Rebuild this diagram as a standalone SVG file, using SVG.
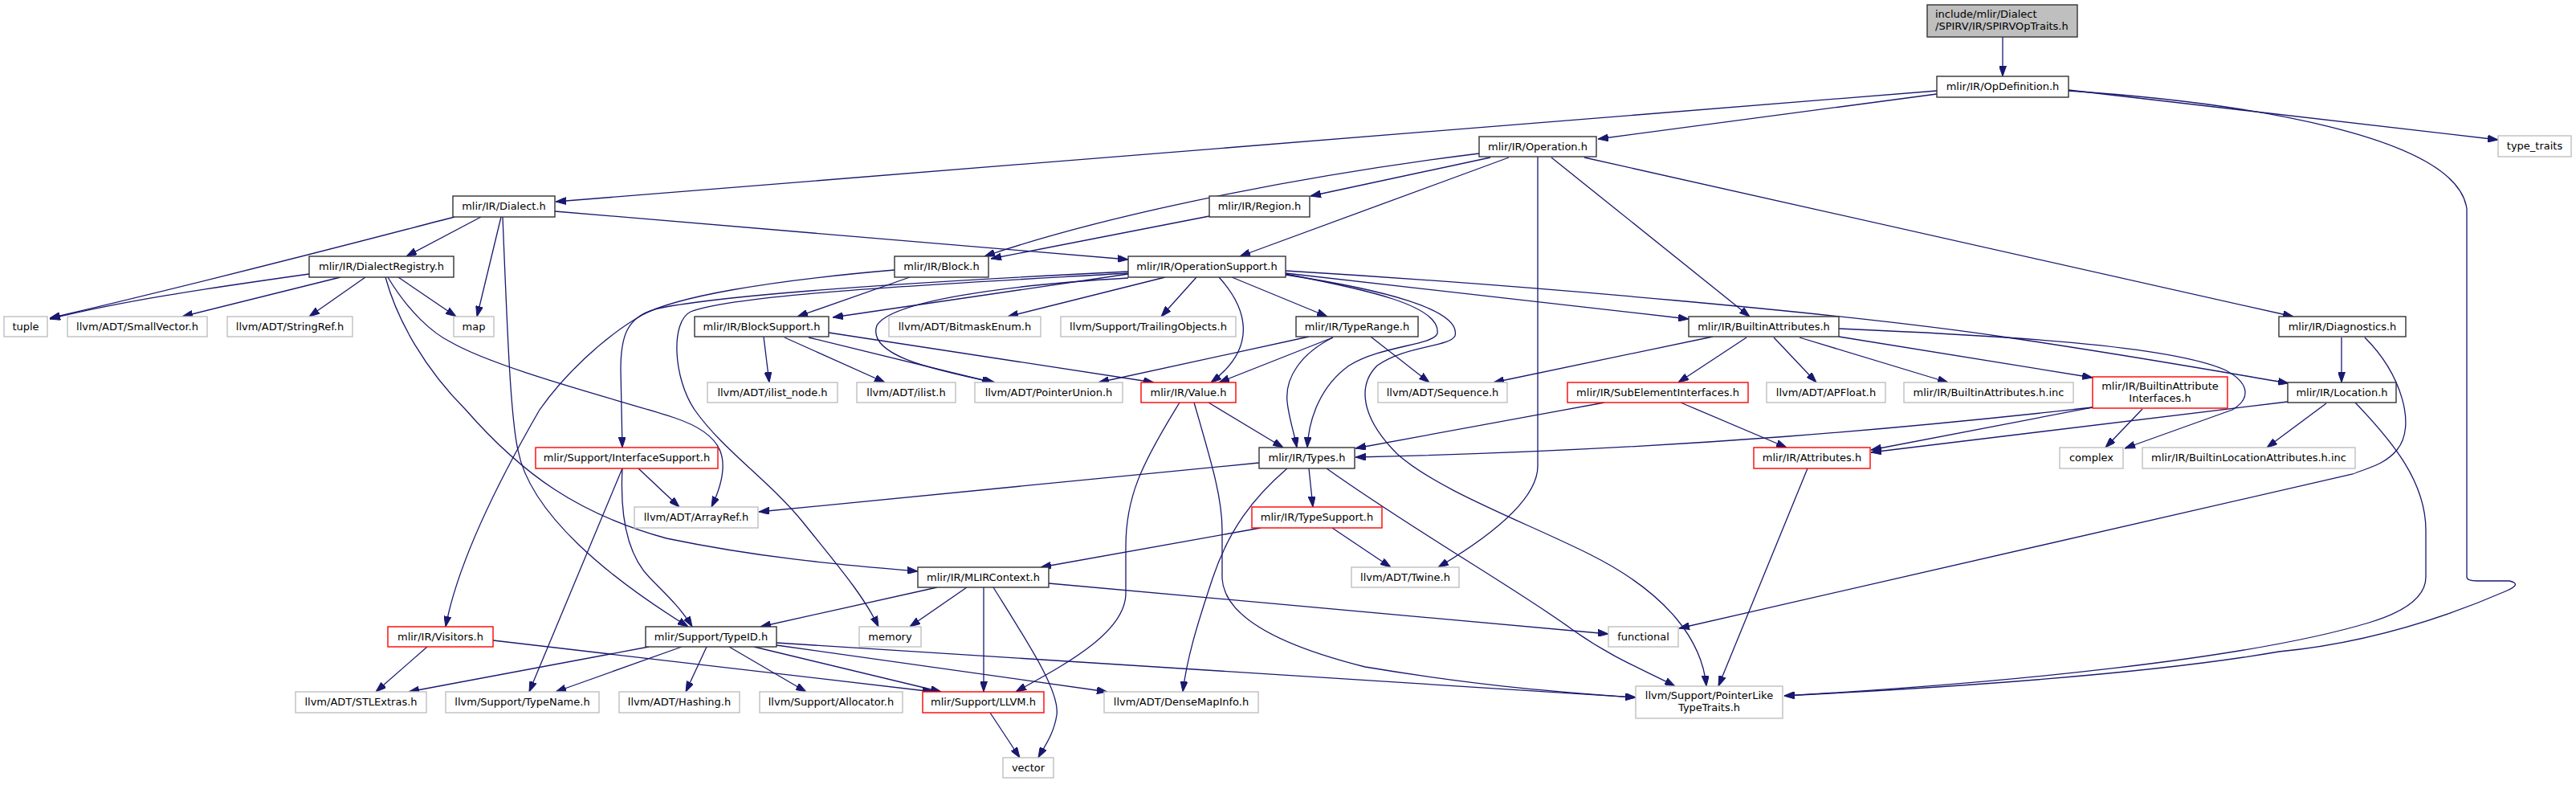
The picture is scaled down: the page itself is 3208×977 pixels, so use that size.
<svg xmlns="http://www.w3.org/2000/svg" width="3208" height="977" viewBox="0 0 3208 977">
<style>
.b{fill:#fff;stroke:#333;stroke-width:1.4}
.g{fill:#fff;stroke:#bfbfbf;stroke-width:1.4}
.r{fill:#fff;stroke:#ff0000;stroke-width:1.4}
.root{fill:#bfbfbf;stroke:#333;stroke-width:1.4}
text{font-family:"DejaVu Sans","Liberation Sans",sans-serif;font-size:13px;fill:#000;text-anchor:middle}
text.l{text-anchor:start}
#edges path{fill:none;stroke:#191970;stroke-width:1.3;marker-end:url(#a)}
</style>
<defs>
<marker id="a" markerWidth="13" markerHeight="9" refX="13" refY="4.5" orient="auto" markerUnits="userSpaceOnUse">
<path d="M0,0 L13,4.5 L0,9 z" fill="#191970" stroke="#191970" stroke-width="1"/>
</marker>
</defs>
<rect width="3208" height="977" fill="#fff"/>
<g id="edges">
<path d="M2494,46 L2494,95"/>
<path d="M2412,117 L1990,173"/>
<path d="M2412,113 L692,251"/>
<path d="M2576,112 L3111,174"/>
<path d="M2576,113 C2800,128 3060,170 3072,260 L3072,718 Q3072,723 3085,723 L3125,723 Q3142,727 3120,736 C3000,788 2900,805 2838,811 C2700,835 2500,852 2222,866"/>
<path d="M1842,191 C1650,215 1400,260 1226,319"/>
<path d="M1856,196 L1632,244"/>
<path d="M1879,196 L1544,319"/>
<path d="M1915,195 L1915,580 C1915,620 1860,665 1791,706"/>
<path d="M1932,196 L2179,394"/>
<path d="M1973,196 L2856,394"/>
<path d="M1506,269 L1234,322"/>
<path d="M566,270 C450,300 300,340 62,396"/>
<path d="M599,270 L506,319"/>
<path d="M624,270 L594,394"/>
<path d="M626,270 C632,420 636,520 645,560 C660,640 760,720 857,780"/>
<path d="M691,263 L1405,323"/>
<path d="M385,341 C250,360 150,375 62,397"/>
<path d="M424,345 L227,394"/>
<path d="M455,345 L385,394"/>
<path d="M496,345 L568,394"/>
<path d="M480,345 C495,400 530,460 580,510 C650,590 720,640 830,670 C950,695 1050,703 1143,711"/>
<path d="M483,345 C510,390 540,415 560,425 C620,460 780,500 840,520 C900,540 915,570 886,631"/>
<path d="M1133,345 L993,394"/>
<path d="M1114,336 C950,350 840,370 800,392 C750,420 700,470 672,510 C620,600 570,700 555,780"/>
<path d="M1405,341 L1037,395"/>
<path d="M1405,346 C1250,355 1110,375 1092,405 C1080,440 1150,458 1239,476"/>
<path d="M1451,345 L1255,394"/>
<path d="M1490,345 L1446,394"/>
<path d="M1518,345 C1550,380 1570,430 1508,476"/>
<path d="M1534,345 L1653,394"/>
<path d="M1405,338 C1200,348 900,365 815,385 C780,395 773,420 773,460 L775,557"/>
<path d="M1405,340 C1200,352 920,365 860,388 C835,400 838,470 865,510 C900,560 960,600 1000,650 C1040,700 1075,740 1094,780"/>
<path d="M1601,340 L2103,397"/>
<path d="M1601,337 C1900,355 2300,390 2500,420 C2650,442 2750,460 2850,477"/>
<path d="M1601,341 C1700,360 1795,380 1790,415 C1785,430 1720,430 1680,455 C1645,480 1630,520 1628,557"/>
<path d="M1601,342 C1720,360 1820,385 1812,418 C1805,432 1750,430 1715,455 C1690,480 1695,520 1740,565 C1790,610 1900,650 1980,690 C2080,740 2120,800 2125,854"/>
<path d="M1630,419 L1368,476"/>
<path d="M1660,420 L1518,476"/>
<path d="M1660,420 C1620,440 1600,470 1603,500 C1605,520 1612,540 1615,557"/>
<path d="M1707,419 L1780,476"/>
<path d="M951,419 L958,476"/>
<path d="M977,420 L1102,476"/>
<path d="M1007,420 L1236,476"/>
<path d="M1032,414 L1437,476"/>
<path d="M1469,501 C1420,580 1402,620 1402,680 L1402,740 C1400,790 1320,830 1265,861"/>
<path d="M1487,501 C1510,580 1522,620 1522,660 L1522,720 C1525,770 1600,805 1700,830 C1850,855 1950,862 2037,868"/>
<path d="M1505,501 L1598,557"/>
<path d="M1568,576 L945,637"/>
<path d="M1603,583 C1560,620 1530,660 1510,720 C1490,780 1478,820 1473,861"/>
<path d="M1630,583 L1635,631"/>
<path d="M1652,583 C1760,660 1900,740 1960,785 C2010,820 2050,835 2086,854"/>
<path d="M1570,657 L1296,706"/>
<path d="M1659,657 L1732,706"/>
<path d="M1998,501 L1688,558"/>
<path d="M2093,501 L2225,557"/>
<path d="M2251,583 L2140,854"/>
<path d="M2133,419 L1860,476"/>
<path d="M2175,420 L2090,476"/>
<path d="M2209,420 L2262,476"/>
<path d="M2241,420 L2426,476"/>
<path d="M2290,419 L2606,470"/>
<path d="M2290,409 C2500,418 2700,430 2770,460 C2800,475 2805,495 2780,510 L2646,558"/>
<path d="M2606,507 C2400,530 2100,560 1688,569"/>
<path d="M2606,507 L2330,560"/>
<path d="M2668,509 L2622,557"/>
<path d="M2849,500 L2330,563"/>
<path d="M2897,502 L2823,557"/>
<path d="M2933,501 C2980,550 3021,600 3021,660 L3021,718 C3021,740 3000,760 2950,775 C2800,820 2500,850 2222,866"/>
<path d="M2916,420 L2916,476"/>
<path d="M2945,420 C2990,465 3010,530 2985,560 C2970,578 2950,582 2930,590 L2091,782"/>
<path d="M1167,731 L947,780"/>
<path d="M1204,731 L1133,780"/>
<path d="M1225,731 L1225,861"/>
<path d="M1237,731 C1280,800 1320,860 1316,890 C1312,915 1300,930 1293,943"/>
<path d="M1306,726 L2003,789"/>
<path d="M775,583 L659,861"/>
<path d="M775,583 C772,640 780,690 810,720 C835,745 850,760 862,780"/>
<path d="M795,583 L846,631"/>
<path d="M532,805 L468,861"/>
<path d="M614,797 L1162,861"/>
<path d="M808,805 L509,861"/>
<path d="M849,805 L692,861"/>
<path d="M880,805 L854,861"/>
<path d="M908,805 L1004,861"/>
<path d="M939,805 L1172,861"/>
<path d="M967,803 L1379,861"/>
<path d="M967,800 L2037,868"/>
<path d="M1233,887 L1270,943"/>
</g>
<g id="n_root"><rect class="root" x="2400" y="6" width="187" height="40"/><text class="l" x="2410" y="22">include/mlir/Dialect</text><text class="l" x="2410" y="37">/SPIRV/IR/SPIRVOpTraits.h</text></g>
<g id="n_opdefinition"><rect class="b" x="2412" y="95" width="164" height="26"/><text x="2494" y="112">mlir/IR/OpDefinition.h</text></g>
<g id="n_type_traits"><rect class="g" x="3111" y="169" width="91" height="26"/><text x="3156.5" y="186">type_traits</text></g>
<g id="n_operation"><rect class="b" x="1842" y="170" width="146" height="25"/><text x="1915" y="187">mlir/IR/Operation.h</text></g>
<g id="n_dialect"><rect class="b" x="564" y="244" width="127" height="26"/><text x="627.5" y="261">mlir/IR/Dialect.h</text></g>
<g id="n_region"><rect class="b" x="1506" y="244" width="125" height="26"/><text x="1568.5" y="261">mlir/IR/Region.h</text></g>
<g id="n_block"><rect class="b" x="1114" y="319" width="117" height="26"/><text x="1172.5" y="336">mlir/IR/Block.h</text></g>
<g id="n_operationsupport"><rect class="b" x="1405" y="319" width="196" height="26"/><text x="1503" y="336">mlir/IR/OperationSupport.h</text></g>
<g id="n_dialectregistry"><rect class="b" x="385" y="319" width="180" height="26"/><text x="475" y="336">mlir/IR/DialectRegistry.h</text></g>
<g id="n_diagnostics"><rect class="b" x="2838" y="394" width="158" height="25"/><text x="2917" y="411">mlir/IR/Diagnostics.h</text></g>
<g id="n_tuple"><rect class="g" x="5" y="394" width="54" height="25"/><text x="32" y="411">tuple</text></g>
<g id="n_smallvector"><rect class="g" x="84" y="394" width="174" height="25"/><text x="171" y="411">llvm/ADT/SmallVector.h</text></g>
<g id="n_stringref"><rect class="g" x="283" y="394" width="156" height="25"/><text x="361" y="411">llvm/ADT/StringRef.h</text></g>
<g id="n_map"><rect class="g" x="565" y="394" width="50" height="25"/><text x="590" y="411">map</text></g>
<g id="n_blocksupport"><rect class="b" x="865" y="394" width="167" height="25"/><text x="948.5" y="411">mlir/IR/BlockSupport.h</text></g>
<g id="n_bitmaskenum"><rect class="g" x="1107" y="394" width="189" height="25"/><text x="1201.5" y="411">llvm/ADT/BitmaskEnum.h</text></g>
<g id="n_trailingobjects"><rect class="g" x="1321" y="394" width="218" height="25"/><text x="1430" y="411">llvm/Support/TrailingObjects.h</text></g>
<g id="n_typerange"><rect class="b" x="1614" y="394" width="152" height="25"/><text x="1690" y="411">mlir/IR/TypeRange.h</text></g>
<g id="n_builtinattributes"><rect class="b" x="2103" y="394" width="187" height="25"/><text x="2196.5" y="411">mlir/IR/BuiltinAttributes.h</text></g>
<g id="n_location"><rect class="b" x="2849" y="476" width="135" height="25"/><text x="2916.5" y="493">mlir/IR/Location.h</text></g>
<g id="n_ilist_node"><rect class="g" x="881" y="476" width="162" height="25"/><text x="962" y="493">llvm/ADT/ilist_node.h</text></g>
<g id="n_ilist"><rect class="g" x="1067" y="476" width="123" height="25"/><text x="1128.5" y="493">llvm/ADT/ilist.h</text></g>
<g id="n_pointerunion"><rect class="g" x="1214" y="476" width="184" height="25"/><text x="1306" y="493">llvm/ADT/PointerUnion.h</text></g>
<g id="n_value"><rect class="r" x="1421" y="476" width="118" height="25"/><text x="1480" y="493">mlir/IR/Value.h</text></g>
<g id="n_sequence"><rect class="g" x="1716" y="476" width="161" height="25"/><text x="1796.5" y="493">llvm/ADT/Sequence.h</text></g>
<g id="n_subelementinterfaces"><rect class="r" x="1952" y="476" width="225" height="25"/><text x="2064.5" y="493">mlir/IR/SubElementInterfaces.h</text></g>
<g id="n_apfloat"><rect class="g" x="2200" y="476" width="148" height="25"/><text x="2274" y="493">llvm/ADT/APFloat.h</text></g>
<g id="n_builtinattributes_inc"><rect class="g" x="2371" y="476" width="211" height="25"/><text x="2476.5" y="493">mlir/IR/BuiltinAttributes.h.inc</text></g>
<g id="n_builtinattributeinterfaces"><rect class="r" x="2606" y="469" width="168" height="39"/><text x="2690" y="485">mlir/IR/BuiltinAttribute</text><text x="2690" y="500">Interfaces.h</text></g>
<g id="n_interfacesupport"><rect class="r" x="667" y="557" width="227" height="26"/><text x="780.5" y="574">mlir/Support/InterfaceSupport.h</text></g>
<g id="n_types"><rect class="b" x="1568" y="557" width="119" height="26"/><text x="1627.5" y="574">mlir/IR/Types.h</text></g>
<g id="n_attributes"><rect class="r" x="2184" y="557" width="145" height="26"/><text x="2256.5" y="574">mlir/IR/Attributes.h</text></g>
<g id="n_complex"><rect class="g" x="2565" y="557" width="79" height="26"/><text x="2604.5" y="574">complex</text></g>
<g id="n_builtinlocationattributes_inc"><rect class="g" x="2668" y="557" width="265" height="26"/><text x="2800.5" y="574">mlir/IR/BuiltinLocationAttributes.h.inc</text></g>
<g id="n_arrayref"><rect class="g" x="790" y="631" width="154" height="26"/><text x="867" y="648">llvm/ADT/ArrayRef.h</text></g>
<g id="n_typesupport"><rect class="r" x="1559" y="631" width="162" height="26"/><text x="1640" y="648">mlir/IR/TypeSupport.h</text></g>
<g id="n_mlircontext"><rect class="b" x="1143" y="706" width="163" height="25"/><text x="1224.5" y="723">mlir/IR/MLIRContext.h</text></g>
<g id="n_twine"><rect class="g" x="1683" y="706" width="134" height="25"/><text x="1750" y="723">llvm/ADT/Twine.h</text></g>
<g id="n_visitors"><rect class="r" x="483" y="780" width="131" height="25"/><text x="548.5" y="797">mlir/IR/Visitors.h</text></g>
<g id="n_typeid"><rect class="b" x="804" y="780" width="163" height="25"/><text x="885.5" y="797">mlir/Support/TypeID.h</text></g>
<g id="n_memory"><rect class="g" x="1070" y="780" width="77" height="25"/><text x="1108.5" y="797">memory</text></g>
<g id="n_functional"><rect class="g" x="2003" y="780" width="87" height="25"/><text x="2046.5" y="797">functional</text></g>
<g id="n_stlextras"><rect class="g" x="368" y="861" width="163" height="26"/><text x="449.5" y="878">llvm/ADT/STLExtras.h</text></g>
<g id="n_typename"><rect class="g" x="555" y="861" width="191" height="26"/><text x="650.5" y="878">llvm/Support/TypeName.h</text></g>
<g id="n_hashing"><rect class="g" x="771" y="861" width="150" height="26"/><text x="846" y="878">llvm/ADT/Hashing.h</text></g>
<g id="n_allocator"><rect class="g" x="946" y="861" width="178" height="26"/><text x="1035" y="878">llvm/Support/Allocator.h</text></g>
<g id="n_llvm"><rect class="r" x="1149" y="861" width="151" height="26"/><text x="1224.5" y="878">mlir/Support/LLVM.h</text></g>
<g id="n_densemapinfo"><rect class="g" x="1375" y="861" width="192" height="26"/><text x="1471" y="878">llvm/ADT/DenseMapInfo.h</text></g>
<g id="n_pointerliketypetraits"><rect class="g" x="2037" y="854" width="183" height="40"/><text x="2128.5" y="870">llvm/Support/PointerLike</text><text x="2128.5" y="885">TypeTraits.h</text></g>
<g id="n_vector"><rect class="g" x="1249" y="943" width="63" height="25"/><text x="1280.5" y="960">vector</text></g>
</svg>
